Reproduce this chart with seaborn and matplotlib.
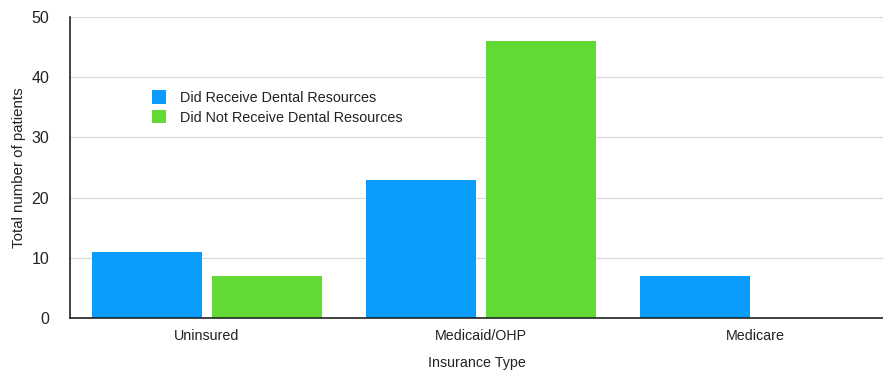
import matplotlib
matplotlib.use("Agg")
import matplotlib.pyplot as plt
import seaborn as sns
import pandas as pd

categories = ["Uninsured", "Medicaid/OHP", "Medicare"]
received = [11, 23, 7]
not_received = [7, 46, 0]
series_names = ["Did Receive Dental Resources", "Did Not Receive Dental Resources"]
y_ticks = [0, 10, 20, 30, 40, 50]

df = pd.DataFrame({
    "Insurance Type": categories * 2,
    "Patients": received + not_received,
    "Group": [series_names[0]] * 3 + [series_names[1]] * 3,
})

sns.set_theme(style="white")
plt.rcParams["font.family"] = ["Liberation Sans", "DejaVu Sans"]

fig = plt.figure(figsize=(8.83, 3.70), dpi=100)
ax = fig.add_axes([70 / 883, 52 / 370, (883 - 70) / 883, 301 / 370])

palette = {series_names[0]: "#0A9DFB", series_names[1]: "#63D935"}
sns.barplot(data=df, x="Insurance Type", y="Patients", hue="Group",
            palette=palette, width=0.88, gap=0.09, saturation=1,
            linewidth=0, ax=ax)

ax.set_xlim(-0.5, 2.467)
ax.set_ylim(0, 50)
ax.set_yticks(y_ticks)
ax.yaxis.grid(True, color="#d9d9d9", linewidth=0.9)
ax.set_axisbelow(True)
for side in ("top", "right"):
    ax.spines[side].set_visible(False)
for side in ("left", "bottom"):
    ax.spines[side].set_color("#222222")
    ax.spines[side].set_linewidth(1.2)
ax.tick_params(axis="y", length=0, pad=15, labelsize=11.5, labelcolor="#222222")
ax.tick_params(axis="x", length=0, pad=8, labelsize=10.3, labelcolor="#222222")
ax.set_ylabel("Total number of patients", fontsize=10.8, color="#222222", labelpad=4)
ax.set_xlabel("Insurance Type", fontsize=10.3, color="#222222", labelpad=9)

leg = ax.legend(loc="upper left", bbox_to_anchor=(0.085, 0.80), frameon=False,
                fontsize=10.4, handlelength=0.95, handleheight=1.05,
                handletextpad=1.0, labelspacing=0.35)
for t in leg.get_texts():
    t.set_color("#222222")

fig.savefig("out.png", dpi=100)
